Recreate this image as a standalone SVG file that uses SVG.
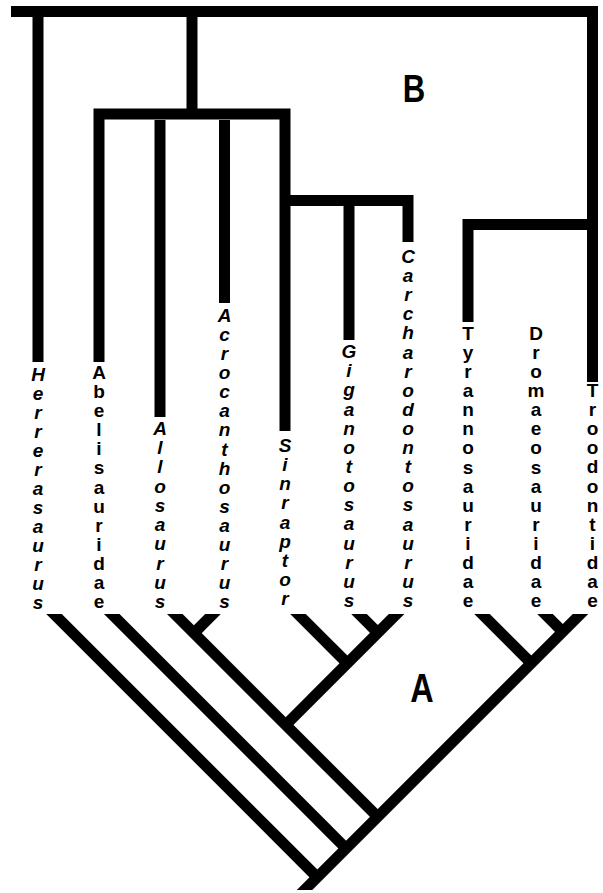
<svg xmlns="http://www.w3.org/2000/svg" width="603" height="893" viewBox="0 0 603 893">
<style>
.br{fill:none;stroke:#000;stroke-width:11;stroke-linecap:butt;stroke-linejoin:miter}
.tx{font-family:"Liberation Sans",Arial,Helvetica,sans-serif;font-weight:bold;font-size:19px;fill:#000;text-anchor:middle}
.it{font-style:italic}
.big{font-family:"Liberation Sans",Arial,Helvetica,sans-serif;font-weight:bold;fill:#000;text-anchor:middle}
</style>
<defs>
<clipPath id="clipA"><rect x="0" y="614" width="603" height="276"/></clipPath>
</defs>
<rect width="603" height="893" fill="#fff"/>
<g id="connectors">
<g id="treeB">
<path class="br" d="M11 11.5H592.5V382"/>
<path class="br" d="M38 17V362"/>
<path class="br" d="M192 17V114"/>
<path class="br" d="M99 362V114H285V431"/>
<path class="br" d="M160 120V417"/>
<path class="br" d="M224.5 120V303"/>
<path class="br" d="M290 200.5H408V242"/>
<path class="br" d="M349 206V340"/>
<path class="br" d="M468 322V224.5H587"/>
</g>
<g id="treeA" clip-path="url(#clipA)">
<line class="br" x1="590.5" y1="604" x2="294.5" y2="900"/>
<line class="br" x1="44" y1="604" x2="320" y2="880"/>
<line class="br" x1="101.7" y1="604" x2="349" y2="851.3"/>
<line class="br" x1="164.8" y1="604" x2="380.5" y2="819.7"/>
<line class="br" x1="223" y1="604" x2="191" y2="636"/>
<line class="br" x1="406.6" y1="604" x2="283" y2="727.6"/>
<line class="br" x1="349" y1="604" x2="380" y2="635"/>
<line class="br" x1="288" y1="604" x2="350" y2="666"/>
<line class="br" x1="472" y1="604" x2="534" y2="666"/>
<line class="br" x1="535" y1="604" x2="565.5" y2="634.5"/>
</g>
</g>
<g id="Herrerasaurus"><text class="tx it" x="38 38 38 38 38 38 38 38 38 38 38 38 38" y="381 400 419 438 457 476 495 514 533 552 571 590 609">Herrerasaurus</text></g>
<g id="Abelisauridae"><text class="tx" x="99 99 99 99 99 99 99 99 99 99 99 99 99" y="379 398.1 417.2 436.2 455.3 474.4 493.5 512.6 531.6 550.7 569.8 588.9 608">Abelisauridae</text></g>
<g id="Allosaurus"><text class="tx it" x="160 160 160 160 160 160 160 160 160 160" y="435 454.2 473.4 492.7 511.9 531.1 550.3 569.6 588.8 608">Allosaurus</text></g>
<g id="Acrocanthosaurus"><text class="tx it" x="224.5 224.5 224.5 224.5 224.5 224.5 224.5 224.5 224.5 224.5 224.5 224.5 224.5 224.5 224.5 224.5" y="322 341.1 360.1 379.2 398.3 417.3 436.4 455.5 474.5 493.6 512.7 531.7 550.8 569.9 588.9 608">Acrocanthosaurus</text></g>
<g id="Sinraptor"><text class="tx it" x="285 285 285 285 285 285 285 285 285" y="452 471.1 490.3 509.4 528.5 547.6 566.8 585.9 605">Sinraptor</text></g>
<g id="Giganotosaurus"><text class="tx it" x="349 349 349 349 349 349 349 349 349 349 349 349 349 349" y="358 377.2 396.3 415.5 434.6 453.8 472.9 492.1 511.2 530.4 549.5 568.7 587.8 607">Giganotosaurus</text></g>
<g id="Carcharodontosaurus"><text class="tx it" x="408 408 408 408 408 408 408 408 408 408 408 408 408 408 408 408 408 408 408" y="263 282.1 301.2 320.3 339.4 358.6 377.7 396.8 415.9 435 454.1 473.2 492.3 511.4 530.5 549.7 568.8 587.9 607">Carcharodontosaurus</text></g>
<g id="Tyrannosauridae"><text class="tx" x="468 468 468 468 468 468 468 468 468 468 468 468 468 468 468" y="340 359.1 378.1 397.2 416.3 435.4 454.4 473.5 492.6 511.6 530.7 549.8 568.9 587.9 607">Tyrannosauridae</text></g>
<g id="Dromaeosauridae"><text class="tx" x="536 536 536 536 536 536 536 536 536 536 536 536 536 536 536" y="340 359.1 378.1 397.2 416.3 435.4 454.4 473.5 492.6 511.6 530.7 549.8 568.9 587.9 607">Dromaeosauridae</text></g>
<g id="Troodontidae"><text class="tx" x="592.5 592.5 592.5 592.5 592.5 592.5 592.5 592.5 592.5 592.5 592.5 592.5" y="397 416.1 435.2 454.3 473.4 492.5 511.5 530.6 549.7 568.8 587.9 607">Troodontidae</text></g>
<g id="label-B"><text class="big" font-size="38" transform="translate(414 102) scale(0.82 1)">B</text></g>
<g id="label-A"><text class="big" font-size="40" transform="translate(422 702) scale(0.81 1)">A</text></g>
</svg>
